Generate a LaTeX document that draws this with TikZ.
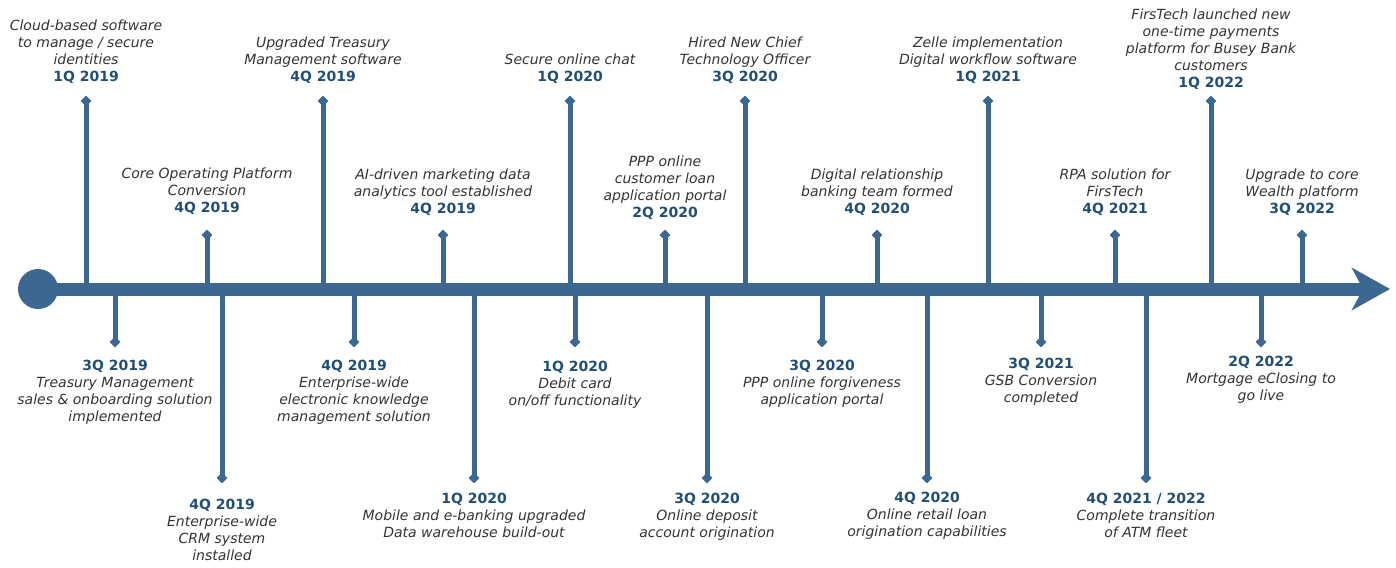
\documentclass[tikz,border=0pt]{standalone}
\usepackage{fontspec}
\setmainfont{DejaVu Sans}
\usetikzlibrary{shapes.geometric,arrows.meta}
\definecolor{tlblue}{HTML}{3B6790}
\definecolor{datecol}{HTML}{1F4E79}
\definecolor{txtgrey}{HTML}{333333}
\newcommand\dt[1]{{\upshape\bfseries\color{datecol}#1}}
\tikzset{
  axisline/.style={draw=tlblue, line width=13pt, -{Stealth[length=38pt,width=42pt,inset=11pt]}},
  stemline/.style={draw=tlblue, line width=5pt},
  tipmark/.style={diamond, fill=tlblue, minimum width=11pt, minimum height=11pt, inner sep=0pt},
  lbl/.style={align=center, inner sep=0pt, text=txtgrey, font=\itshape\fontsize{14}{17}\selectfont},
}
% name, x, y of tip, y of label anchor, text
\newcommand\tlup[5]{%
  \coordinate (a#1) at (#2,289);
  \node[tipmark] (t#1) at (#2,#3) {};
  \draw[stemline] (a#1) -- (t#1.center);
  \node[lbl, anchor=south] (l#1) at (#2,#4) {#5};
}
\newcommand\tldown[5]{%
  \coordinate (a#1) at (#2,289);
  \node[tipmark] (t#1) at (#2,#3) {};
  \draw[stemline] (a#1) -- (t#1.center);
  \node[lbl, anchor=north] (l#1) at (#2,#4) {#5};
}
\begin{document}
\begin{tikzpicture}[x=1pt,y=-1pt]
\useasboundingbox (0,0) rectangle (1396,567);
\node[circle, fill=tlblue, minimum size=40pt, inner sep=0pt] (start) at (38,289) {};
\coordinate (axend) at (1390,289);
\draw[axisline] (start.center) -- (axend);

\tlup{u1}{86}{101}{84}{Cloud-based software\\to manage / secure\\identities\\\dt{1Q 2019}}
\tlup{u2}{207}{235}{215}{Core Operating Platform\\Conversion\\\dt{4Q 2019}}
\tlup{u3}{323}{101}{84}{Upgraded Treasury\\Management software\\\dt{4Q 2019}}
\tlup{u4}{443}{235}{216}{AI-driven marketing data\\analytics tool established\\\dt{4Q 2019}}
\tlup{u5}{570}{101}{84}{Secure online chat\\\dt{1Q 2020}}
\tlup{u6}{665}{235}{220}{PPP online\\customer loan\\application portal\\\dt{2Q 2020}}
\tlup{u7}{745}{101}{84}{Hired New Chief\\Technology Officer\\\dt{3Q 2020}}
\tlup{u8}{877}{235}{216}{Digital relationship\\banking team formed\\\dt{4Q 2020}}
\tlup{u9}{988}{101}{84}{Zelle implementation\\Digital workflow software\\\dt{1Q 2021}}
\tlup{u10}{1115}{235}{216}{RPA solution for\\FirsTech\\\dt{4Q 2021}}
\tlup{u11}{1211}{101}{90}{FirsTech launched new\\one-time payments\\platform for Busey Bank\\customers\\\dt{1Q 2022}}
\tlup{u12}{1302}{235}{216}{Upgrade to core\\Wealth platform\\\dt{3Q 2022}}

\tldown{d1}{115}{342}{360}{\dt{3Q 2019}\\Treasury Management\\sales \& onboarding solution\\implemented}
\tldown{d2}{222}{478}{499}{\dt{4Q 2019}\\Enterprise-wide\\CRM system\\installed}
\tldown{d3}{354}{342}{360}{\dt{4Q 2019}\\Enterprise-wide\\electronic knowledge\\management solution}
\tldown{d4}{474}{478}{493}{\dt{1Q 2020}\\Mobile and e-banking upgraded\\Data warehouse build-out}
\tldown{d5}{575}{342}{361}{\dt{1Q 2020}\\Debit card\\on/off functionality}
\tldown{d6}{707}{478}{493}{\dt{3Q 2020}\\Online deposit\\account origination}
\tldown{d7}{822}{342}{360}{\dt{3Q 2020}\\PPP online forgiveness\\application portal}
\tldown{d8}{927}{478}{492}{\dt{4Q 2020}\\Online retail loan\\origination capabilities}
\tldown{d9}{1041}{342}{358}{\dt{3Q 2021}\\GSB Conversion\\completed}
\tldown{d10}{1146}{478}{493}{\dt{4Q 2021 / 2022}\\Complete transition\\of ATM fleet}
\tldown{d11}{1261}{342}{356}{\dt{2Q 2022}\\Mortgage eClosing to\\go live}
\end{tikzpicture}
\end{document}
